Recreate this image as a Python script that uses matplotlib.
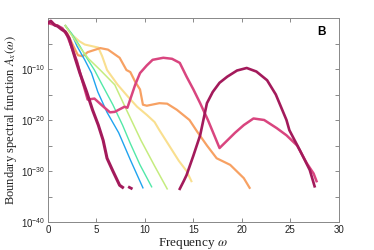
import numpy as np
import matplotlib
matplotlib.use("Agg")
import matplotlib.pyplot as plt

plt.rcParams['font.family'] = ['Liberation Sans', 'DejaVu Sans']
plt.rcParams['mathtext.fontset'] = 'stix'

# ---- data: (frequency, log10 A) ----
crimA_w = [0, 0.3, 0.7, 1.0, 1.4, 1.8, 2.2, 2.8, 3.3, 4.0, 4.6, 5.2, 5.7, 6.1, 6.7, 7.4, 7.7]
crimA_y = [-1.0, -0.6, -1.4, -1.6, -2.2, -2.7, -4.0, -7.8, -10.8, -14.5, -18.0, -21.0, -24.0, -27.5, -30.0, -32.8, -33.2]
crimA2_w = [8.4, 8.6]
crimA2_y = [-33.2, -33.4]

blue_w = [1.8, 2.5, 3.0, 3.8, 4.5, 5.15, 6.1, 7.3, 8.5, 9.8]
blue_y = [-1.5, -3.3, -5.5, -8.2, -10.8, -14.5, -18.5, -22.5, -27.8, -33.3]

teal_w = [1.8, 2.5, 3.3, 4.0, 4.8, 5.6, 6.7, 7.7, 8.5, 9.5, 10.7]
teal_y = [-1.5, -3.2, -5.5, -7.8, -10.2, -13.1, -17.0, -21.0, -24.6, -28.8, -33.1]

lgreen_w = [1.8, 2.5, 3.2, 4.2, 5.4, 6.9, 8.1, 9.6, 11.0, 12.3]
lgreen_y = [-1.5, -3.5, -5.5, -8.0, -10.2, -13.1, -18.0, -24.0, -29.0, -33.5]

yellow_w = [1.8, 2.5, 3.2, 3.8, 4.5, 5.2, 5.6, 6.1, 7.2, 8.2, 9.2, 10.2, 11.0, 11.5, 12.5, 13.5, 14.3, 14.8]
yellow_y = [-1.5, -3.3, -4.5, -5.2, -5.5, -5.8, -7.5, -10.2, -13.1, -15.3, -17.4, -19.0, -20.4, -22.0, -25.0, -28.0, -30.0, -32.0]

orange_w = [0, 1.0, 2.0, 2.5, 3.1, 3.6, 4.1, 5.4, 6.2, 7.4, 8.1, 8.5, 9.0, 9.5, 9.8, 10.2, 11.5, 12.3, 13.3,
            14.6, 15.4, 16.4, 17.4, 18.8, 20.2, 20.8]
orange_y = [-0.8, -1.5, -3.0, -5.0, -7.3, -7.5, -6.7, -5.9, -6.2, -7.8, -10.2, -10.6, -12.5, -14.0, -17.0,
            -17.2, -16.7, -16.8, -18.0, -20.0, -22.3, -25.0, -27.5, -28.8, -31.4, -33.3]

pink_w = [0, 1.0, 1.5, 2.0, 2.5, 3.0, 3.5, 4.1, 4.8, 5.5, 6.4, 6.9, 7.9, 8.2, 9.0, 9.5, 10.2, 10.8, 11.9,
          12.8, 13.6, 14.3, 15.0, 15.7, 16.5, 17.7, 18.5, 19.3, 20.2, 21.2, 22.3, 23.6, 24.6, 25.7, 26.7, 27.4, 27.7]
pink_y = [-1.0, -1.5, -2.0, -3.5, -6.0, -8.5, -12.0, -16.0, -15.8, -17.0, -18.5, -18.4, -17.4, -17.6, -13.1,
          -10.8, -9.3, -8.2, -7.8, -8.0, -8.8, -11.5, -14.0, -16.7, -20.0, -25.5, -24.0, -22.5, -21.0, -19.7,
          -20.0, -21.6, -23.0, -25.0, -28.5, -30.5, -32.0]

crimB_w = [13.6, 14.0, 14.3, 15.0, 15.7, 16.4, 17.0, 17.7, 18.5, 19.5, 20.5, 21.5, 22.6, 23.5, 24.6, 24.9,
           26.0, 27.0, 27.5]
crimB_y = [-33.5, -32.0, -30.8, -27.0, -23.0, -16.7, -14.5, -12.7, -11.5, -10.3, -9.8, -10.5, -12.2, -15.0,
           -20.0, -22.0, -26.0, -29.8, -33.0]

xticks = [0, 5, 10, 15, 20, 25, 30]
ytick_exp = [-40, -30, -20, -10]
yminor_exp = [-35, -25, -15, -5]

fig = plt.figure(figsize=(3.74, 2.5), dpi=100)
ax = fig.add_axes([0.128, 0.112, 0.778, 0.816])

def p(w, y, color, lw, z):
    ax.plot(w, 10.0 ** np.array(y), color=color, lw=lw, zorder=z, solid_joinstyle='round')

p(blue_w, blue_y, '#1fa3ef', 1.0, 3)
p(teal_w, teal_y, '#52e8a8', 1.0, 3)
p(lgreen_w, lgreen_y, '#c5ec7f', 1.1, 3)
p(yellow_w, yellow_y, '#f9df8f', 1.5, 2)
p(orange_w, orange_y, '#f7a163', 1.6, 2)
p(pink_w, pink_y, '#d9457f', 1.8, 4)
p(crimA_w, crimA_y, '#a31a5b', 2.2, 5)
p(crimA2_w, crimA2_y, '#a31a5b', 2.0, 5)
p(crimB_w, crimB_y, '#a31a5b', 1.9, 5)

ax.set_yscale('log')
ax.set_xlim(0, 30)
ax.set_ylim(1e-40, 1e0)
ax.set_xticks(xticks)
ax.set_xticklabels([str(t) for t in xticks])
ax.set_yticks([10.0 ** e for e in ytick_exp])
ax.set_yticklabels([r'$\mathdefault{10^{%d}}$' % e for e in ytick_exp])
ax.set_yticks([10.0 ** e for e in yminor_exp], minor=True)
ax.yaxis.set_minor_formatter(matplotlib.ticker.NullFormatter())

ax.tick_params(which='both', direction='in', top=True, right=True, length=3, width=0.6,
               color='#777777', labelsize=7, labelcolor='#222222', pad=2)
ax.tick_params(which='minor', length=3)
for s in ax.spines.values():
    s.set_color('#888888')
    s.set_linewidth(0.7)

ax.set_xlabel(r'Frequency $\omega$', fontfamily='Liberation Serif', fontsize=9.5, labelpad=1, color='#222222')
ax.set_ylabel(r'Boundary spectral function $A_x(\omega)$', fontfamily='Liberation Serif', fontsize=9,
              labelpad=1, color='#222222')
ax.text(0.94, 0.93, 'B', transform=ax.transAxes, fontsize=8.5, fontweight='bold', ha='center', va='center')

fig.savefig('out.png', dpi=100)
